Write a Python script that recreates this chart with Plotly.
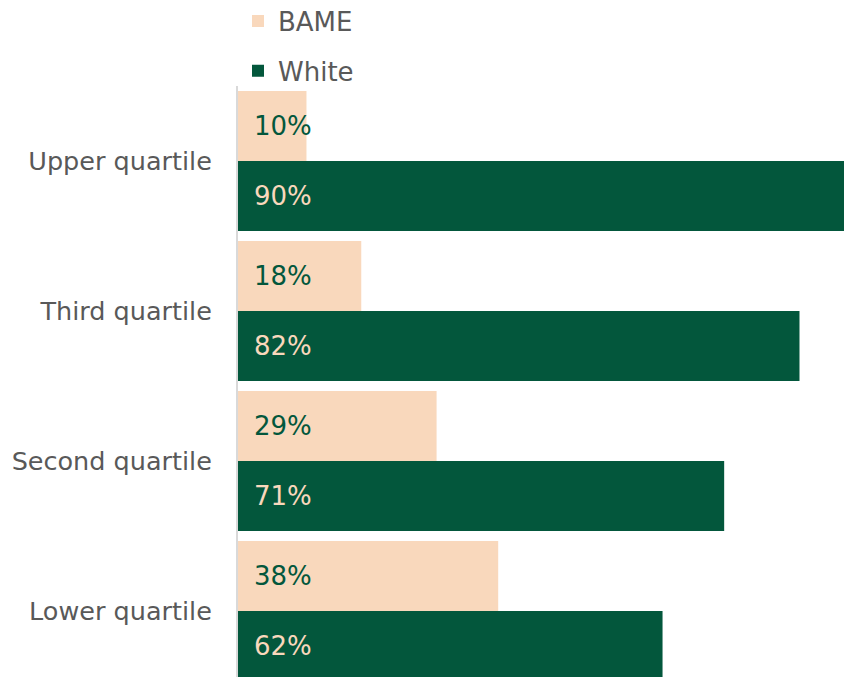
import plotly.graph_objects as go

categories = ["Lower quartile", "Second quartile", "Third quartile", "Upper quartile"]
bame = [38, 29, 18, 10]
white = [62, 71, 82, 90]

PEACH = "#F9D8BC"
GREEN = "#03573C"
FONT = "DejaVu Sans"

fig = go.Figure()
fig.add_trace(go.Bar(
    name="White", y=categories, x=white, orientation="h",
    marker=dict(color=GREEN, line=dict(width=0)),
    text=[f"\u2002{v}%" for v in white],
    textposition="inside", insidetextanchor="start",
    textangle=0, constraintext="none",
    textfont=dict(family=FONT, size=26, color=PEACH),
    legendrank=2, legendgroup="w", hoverinfo="skip",
))
fig.add_trace(go.Bar(
    name="BAME", y=categories, x=bame, orientation="h",
    marker=dict(color=PEACH, line=dict(width=0)),
    text=[f"\u2002{v}%" for v in bame],
    textposition="inside", insidetextanchor="start",
    textangle=0, constraintext="none",
    textfont=dict(family=FONT, size=26, color=GREEN),
    legendrank=1, legendgroup="b", hoverinfo="skip",
))

fig.update_layout(
    width=844, height=677,
    margin=dict(l=238, r=0, t=86, b=0, autoexpand=False),
    barmode="group", bargap=0.067, bargroupgap=0,
    plot_bgcolor="white", paper_bgcolor="white",
    font=dict(family=FONT, size=26, color="#595959"),
    legend=dict(
        x=0.0, y=1.1497, xanchor="left", yanchor="top",
        font=dict(family=FONT, size=26, color="#595959"),
        traceorder="grouped", tracegroupgap=13,
        bgcolor="rgba(0,0,0,0)",
    ),
    xaxis=dict(range=[0, 88.5], visible=False, fixedrange=True),
    yaxis=dict(
        categoryorder="array", categoryarray=categories,
        range=[-0.44, 3.5], automargin=False, fixedrange=True,
        showline=True, linecolor="#D9D9D9", linewidth=2,
        showgrid=False, zeroline=False,
        ticks="outside", ticklen=19, tickcolor="rgba(0,0,0,0)",
        tickfont=dict(family=FONT, size=25.5, color="#595959"),
    ),
)

fig.write_html(
    "out.html",
    config={"displayModeBar": False},
    post_script="document.body.style.margin='0';document.body.style.overflow='hidden';",
)
